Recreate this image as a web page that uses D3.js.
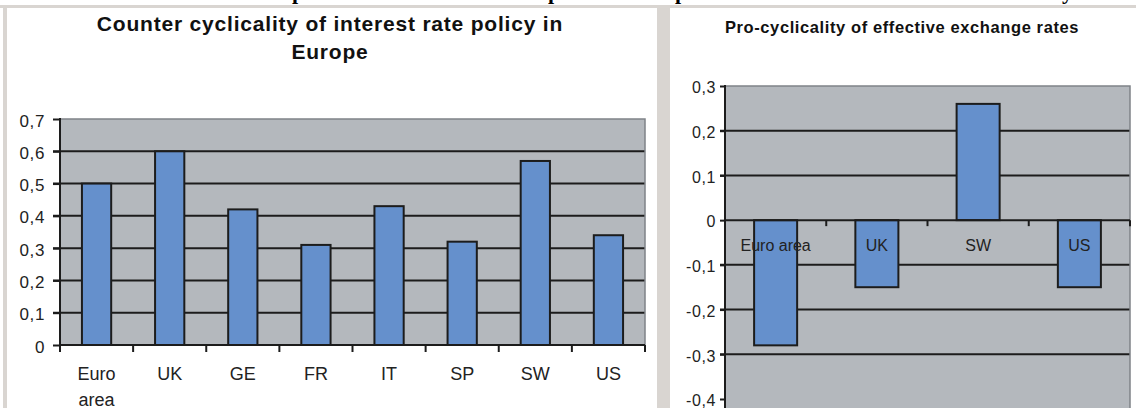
<!DOCTYPE html>
<html>
<head>
<meta charset="utf-8">
<script src="https://cdn.jsdelivr.net/npm/d3@7"></script>
<style>
  body { margin: 0; background: #fff; }
  svg { display: block; font-family: "Liberation Sans", Arial, sans-serif; }
</style>
</head>
<body>
<svg id="chart" width="1136" height="408"></svg>
<script>
// interest rate panel
const rateCountries = ["Euro area", "UK", "GE", "FR", "IT", "SP", "SW", "US"];
const rateValues = [0.50, 0.60, 0.42, 0.31, 0.43, 0.32, 0.57, 0.34];
const rateTicks = [0, 0.1, 0.2, 0.3, 0.4, 0.5, 0.6, 0.7];

// exchange rate panel
const fxCountries = ["Euro area", "UK", "SW", "US"];
const fxValues = [-0.28, -0.15, 0.26, -0.15];
const fxTicks = [-0.4, -0.3, -0.2, -0.1, 0, 0.1, 0.2, 0.3];

const PLOT_FILL = "#b4b8bd";
const BAR_FILL = "#6590cc";
const INK = "#1c1c1c";

const fmt = v => v === 0 ? "0" : d3.format(".1f")(v).replace(".", ",").replace("\u2212", "-");

const svg = d3.select("#chart");

// ─── page frame ─────────────────────────────────────────────
svg.append("rect").attr("width", 1136).attr("height", 408).attr("fill", "#fff");
svg.append("rect").attr("x", 0).attr("y", 5).attr("width", 1136).attr("height", 3).attr("fill", "#d9d5d1");
svg.append("rect").attr("x", 3).attr("y", 5).attr("width", 4).attr("height", 403).attr("fill", "#d9d5d1");
svg.append("rect").attr("x", 657).attr("y", 5).attr("width", 13).attr("height", 403).attr("fill", "#d9d5d1");

// bottoms of the page heading, cut off above the figure
const cut = svg.append("text")
  .attr("y", -1)
  .attr("font-family", "'Liberation Serif', serif")
  .attr("font-weight", "bold")
  .attr("font-size", 22)
  .attr("fill", "#000");
[["p", 292], ["p", 548], ["p", 675], ["y", 1062]].forEach(([ch, x]) =>
  cut.append("tspan").attr("x", x).text(ch));

function drawPanel(opts) {
  const { cats, vals, ticks, x0, x1, yRange, plotBottom, barRatio, tickLen, labelPad } = opts;
  const g = svg.append("g");

  const x = d3.scaleBand().domain(cats).range([x0, x1]);
  const y = d3.scaleLinear().domain(d3.extent(ticks)).range(yRange);
  const bw = x.bandwidth() * barRatio;
  const yMax = d3.max(ticks), yMin = d3.min(ticks);

  g.append("rect")
    .attr("x", x0).attr("y", y(yMax))
    .attr("width", x1 - x0).attr("height", plotBottom - y(yMax))
    .attr("fill", PLOT_FILL);

  // grid
  g.selectAll(".grid")
    .data(ticks.filter(t => t !== yMax && t !== 0 && t !== yMin))
    .join("line")
    .attr("x1", x0 - tickLen).attr("x2", x1)
    .attr("y1", d => y(d)).attr("y2", d => y(d))
    .attr("stroke", INK).attr("stroke-width", 2);

  // plot border top / right
  g.append("path")
    .attr("d", `M${x0},${y(yMax)}H${x1}V${plotBottom}`)
    .attr("fill", "none").attr("stroke", "#7f8388").attr("stroke-width", 1.5);

  // bars
  g.selectAll(".bar")
    .data(cats.map((c, i) => ({ c, v: vals[i] })))
    .join("rect")
    .attr("x", d => x(d.c) + (x.bandwidth() - bw) / 2)
    .attr("y", d => y(Math.max(0, d.v)))
    .attr("width", bw)
    .attr("height", d => Math.abs(y(d.v) - y(0)))
    .attr("fill", BAR_FILL).attr("stroke", INK).attr("stroke-width", 2);

  // y axis
  const ya = g.append("g")
    .attr("transform", `translate(${x0},0)`)
    .call(d3.axisLeft(y).tickValues(ticks).tickSize(tickLen).tickSizeOuter(0)
      .tickPadding(labelPad).tickFormat(fmt));
  ya.select(".domain").remove();
  ya.selectAll(".tick line").attr("stroke", INK).attr("stroke-width", 2);
  ya.selectAll(".tick text")
    .attr("font-size", opts.tickFont).attr("fill", "#222")
    .attr("font-family", "'Liberation Sans', Arial, sans-serif")
    .attr("letter-spacing", 0.6)
    .attr("dy", "0.42em");

  g.append("line")
    .attr("x1", x0).attr("x2", x0)
    .attr("y1", y(yMax) - 1).attr("y2", opts.axisBottom)
    .attr("stroke", INK).attr("stroke-width", 2);

  // x axis at zero
  g.append("line")
    .attr("x1", x0).attr("x2", x1)
    .attr("y1", y(0)).attr("y2", y(0))
    .attr("stroke", INK).attr("stroke-width", 2);
  const bounds = cats.slice(1).map(c => x(c)).concat([x1]);
  g.selectAll(".xtick")
    .data(bounds)
    .join("line")
    .attr("x1", d => d).attr("x2", d => d)
    .attr("y1", y(0)).attr("y2", y(0) + opts.xTickLen)
    .attr("stroke", INK).attr("stroke-width", 2);

  return { g, x, y };
}

// ─── left: interest rate policy ─────────────────────────────
const left = drawPanel({
  cats: rateCountries, vals: rateValues, ticks: rateTicks,
  x0: 60, x1: 645, yRange: [345, 119], plotBottom: 345,
  barRatio: 0.4, tickLen: 7, labelPad: 8, tickFont: 17,
  axisBottom: 352, xTickLen: 7
});

left.g.selectAll(".xlab")
  .data(rateCountries)
  .join("text")
  .attr("text-anchor", "middle")
  .attr("font-size", 18).attr("fill", "#222")
  .each(function (d) {
    const cx = left.x(d) + left.x.bandwidth() / 2;
    d.split(" ").forEach((w, i) =>
      d3.select(this).append("tspan").attr("x", cx).attr("y", 380 + i * 26).text(w));
  });

svg.append("text")
  .attr("x", 330).attr("text-anchor", "middle")
  .attr("font-size", 21).attr("font-weight", "bold").attr("fill", "#111")
  .attr("letter-spacing", 0.8)
  .selectAll("tspan")
  .data(["Counter cyclicality of interest rate policy in", "Europe"])
  .join("tspan")
  .attr("x", 330).attr("y", (d, i) => 31 + i * 28)
  .text(d => d);

// ─── right: effective exchange rates ────────────────────────
const right = drawPanel({
  cats: fxCountries, vals: fxValues, ticks: fxTicks,
  x0: 725, x1: 1130, yRange: [399, 86], plotBottom: 408,
  barRatio: 0.425, tickLen: 5, labelPad: 4, tickFont: 16,
  axisBottom: 408, xTickLen: 6
});

right.g.selectAll(".xlab")
  .data(fxCountries)
  .join("text")
  .attr("x", d => right.x(d) + right.x.bandwidth() / 2)
  .attr("y", 251)
  .attr("text-anchor", "middle")
  .attr("font-size", 16).attr("fill", "#222")
  .text(d => d);

svg.append("text")
  .attr("x", 902).attr("y", 33).attr("text-anchor", "middle")
  .attr("font-size", 16.5).attr("font-weight", "bold").attr("fill", "#111")
  .attr("letter-spacing", 0.6)
  .text("Pro-cyclicality of effective exchange rates");
</script>
</body>
</html>
